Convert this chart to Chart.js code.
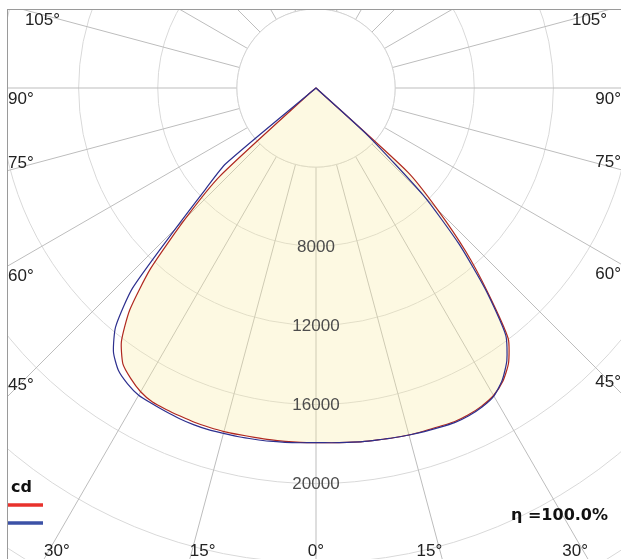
<!DOCTYPE html>
<html lang="en">
<head>
  <meta charset="UTF-8" />
  <title>Luminous intensity distribution</title>
  <script src="https://cdn.jsdelivr.net/npm/chart.js"></script>
  <style>
    html, body {
      margin: 0;
      padding: 0;
      background: #fff;
      overflow: hidden;
    }
    body {
      width: 621px;
      height: 559px;
      position: relative;
    }
    #frame {
      position: absolute;
      left: 7px;
      top: 9px;
      width: 800px;
      height: 800px;
      border-left: 1px solid #9a9a9a;
      border-top: 1px solid #9a9a9a;
      overflow: hidden;
    }
    #polar {
      position: absolute;
    }
  </style>
</head>
<body>
  <div id="frame"><canvas id="polar" width="1267" height="1267"></canvas></div>

  <script>
    // gamma angles (deg from nadir) where the curves are not zero
    const gammaStep = 2.5;
    const gammaDeg = [0, 2.5, 5, 7.5, 10, 12.5, 15, 17.5, 20, 22.5, 25, 27.5,
                      30, 32.5, 35, 37.5, 40, 42.5, 45, 47.5, 50, 52.5];

    // intensities in cd (0 beyond the last angle)
    const c0   = [17930, 17950, 17980, 18030, 18060, 18110, 18160, 18180, 18210, 18260, 18230, 18130,
                  17950, 17580, 16970, 15960, 13540, 11210, 8690, 6310, 0, 0];
    const c180 = [17930, 17930, 17930, 17930, 17930, 17950, 17980, 17980, 17980, 17950, 17930, 17900,
                  17730, 17420, 17020, 16160, 14650, 12370, 9340, 6570, 510, 0];
    const c90  = [17930, 17950, 17980, 18030, 18060, 18110, 18160, 18210, 18260, 18310, 18280, 18180,
                  17980, 17520, 16820, 15760, 13380, 10710, 7680, 3540, 0, 0];
    const c270 = [17930, 17950, 17980, 18010, 18030, 18060, 18080, 18110, 18110, 18080, 18030, 17980,
                  17930, 17730, 17420, 16820, 15760, 13740, 10000, 7580, 5960, 0];

    const ringStep = 4000;
    const ringMax = 32000;
    const ringLabels = [8000, 12000, 16000, 20000];
    const angleLabels = [0, 15, 30, 45, 60, 75, 90, 105];
    const unitText = 'cd';
    const etaText = 'η =100.0%';

    // page position of the pole and the visible frame
    const PX = 316, PY = 88;
    const FRAME = { left: 8, top: 10, right: 621, bottom: 559 };

    // one label per 2.5 deg round the circle, 0 = nadir, left side first
    const labels = [];
    for (let i = 0; i < 360 / gammaStep; i++) labels.push(i * gammaStep);

    function planeValues(leftHalf, rightHalf) {
      return labels.map(phi => {
        const left = phi <= 180;
        const g = left ? phi : 360 - phi;
        const k = gammaDeg.indexOf(g);
        return k >= 0 ? (left ? leftHalf : rightHalf)[k] : 0;
      });
    }

    function toCanvas(scale, px, py) {
      return [px - PX + scale.xCenter, py - PY + scale.yCenter];
    }

    const decor = {
      id: 'decor',
      beforeDatasetsDraw(chart) {
        const r = chart.scales.r;
        const ctx = chart.ctx;
        const rad = r.getDistanceFromCenterForValue(ringStep);
        ctx.save();
        ctx.beginPath();
        ctx.arc(r.xCenter, r.yCenter, rad, 0, Math.PI * 2);
        ctx.fillStyle = '#fff';
        ctx.fill();
        ctx.strokeStyle = '#d4d4d4';
        ctx.lineWidth = 1;
        ctx.stroke();
        ctx.restore();
      },
      afterDraw(chart) {
        const r = chart.scales.r;
        const ctx = chart.ctx;
        ctx.save();

        // ring values along the nadir spoke
        ctx.font = '17px "Liberation Sans", Arial, sans-serif';
        ctx.fillStyle = '#4d4d4d';
        ctx.textAlign = 'center';
        ctx.textBaseline = 'middle';
        ringLabels.forEach(v => {
          const p = r.getPointPosition(0, r.getDistanceFromCenterForValue(v));
          ctx.fillText(String(v), p.x, p.y + 1);
        });

        // angle labels where each spoke leaves the frame
        const sideOffset = { 45: -6, 60: 15, 75: -3, 90: 16 };
        ctx.fillStyle = '#222';
        ctx.textBaseline = 'alphabetic';
        angleLabels.forEach(g => {
          const sides = g === 0 ? [0] : [-1, 1];
          sides.forEach(s => {
            const idx = s <= 0 ? g / gammaStep : (360 - g) / gammaStep;
            const q = r.getPointPosition(idx, 100);
            const dx = (q.x - r.xCenter) / 100, dy = (q.y - r.yCenter) / 100;
            const hits = [];
            if (dx < -1e-6) hits.push([(FRAME.left - PX) / dx, 'side']);
            if (dx > 1e-6) hits.push([(FRAME.right - PX) / dx, 'side']);
            if (dy < -1e-6) hits.push([(FRAME.top - PY) / dy, 'top']);
            if (dy > 1e-6) hits.push([(FRAME.bottom - PY) / dy, 'bottom']);
            hits.sort((a, b) => a[0] - b[0]);
            const [t, edge] = hits[0];
            let x = PX + dx * t, y = PY + dy * t;
            if (edge === 'bottom') y = 556;
            else if (edge === 'top') y = 25;
            else y = y + (sideOffset[g] || 0);
            if (edge === 'side') x = s < 0 ? FRAME.left : FRAME.right;
            ctx.textAlign = s < 0 ? 'left' : (s > 0 ? 'right' : 'center');
            const [cx, cy] = toCanvas(r, x, y);
            ctx.fillText(g + '°', cx, cy);
          });
        });

        // legend and efficiency
        ctx.font = 'bold 16px "DejaVu Sans", sans-serif';
        ctx.fillStyle = '#111';
        ctx.textAlign = 'left';
        ctx.fillText(unitText, ...toCanvas(r, 11, 492));
        ctx.fillText(etaText, ...toCanvas(r, 511, 520));

        ctx.lineWidth = 3.5;
        [['#e8322c', 505], ['#3b51a6', 523]].forEach(([col, y]) => {
          const a = toCanvas(r, 8, y), b = toCanvas(r, 43, y);
          ctx.strokeStyle = col;
          ctx.beginPath();
          ctx.moveTo(a[0], a[1]);
          ctx.lineTo(b[0], b[1]);
          ctx.stroke();
        });
        ctx.restore();
      }
    };

    const chart = new Chart(document.getElementById('polar'), {
      type: 'radar',
      data: {
        labels: labels,
        datasets: [
          {
            label: 'C90 - C270',
            data: planeValues(c270, c90),
            borderColor: '#2d2f8e',
            borderWidth: 1.2,
            pointRadius: 0,
            fill: false
          },
          {
            label: 'C0 - C180',
            data: planeValues(c180, c0),
            borderColor: '#b0281f',
            borderWidth: 1.2,
            pointRadius: 0,
            fill: 'origin',
            backgroundColor: 'rgba(247, 235, 160, 0.3)'
          }
        ]
      },
      options: {
        responsive: false,
        animation: false,
        events: [],
        layout: { padding: 0 },
        elements: { line: { tension: 0.2 } },
        scales: {
          r: {
            min: 0,
            max: ringMax,
            startAngle: 180,
            ticks: { display: false, stepSize: ringStep },
            pointLabels: { display: false },
            grid: { circular: true, color: '#d9d9d9', lineWidth: 1 },
            angleLines: {
              color: '#bdbdbd',
              lineWidth: ctx => (ctx.index * gammaStep) % 15 === 0 ? 1 : 0
            }
          }
        },
        plugins: {
          legend: { display: false },
          tooltip: { enabled: false }
        }
      },
      plugins: [decor]
    });

    // put the pole where it sits in the picture
    const rs = chart.scales.r;
    const cv = document.getElementById('polar');
    cv.style.left = (PX - 8 - rs.xCenter) + 'px';
    cv.style.top = (PY - 10 - rs.yCenter) + 'px';
  </script>
</body>
</html>
